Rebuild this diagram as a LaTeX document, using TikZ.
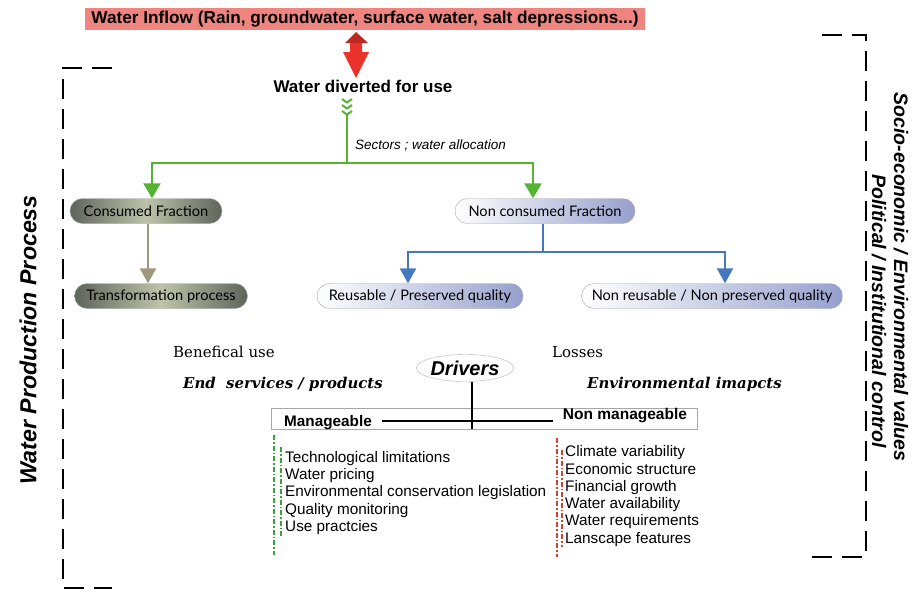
\documentclass[tikz,border=0pt]{standalone}
\usepackage{fontspec}
\setmainfont{Liberation Sans}
\newfontfamily\serifrm{DejaVu Serif}
\newfontfamily\pillfont{Lato}
\usetikzlibrary{arrows.meta,shapes.geometric,calc}
\definecolor{bannerred}{RGB}{240,132,126}
\definecolor{arrowred}{RGB}{232,50,42}
\definecolor{darkred}{RGB}{190,40,35}
\definecolor{leafgreen}{RGB}{84,180,50}
\definecolor{tanline}{RGB}{160,152,125}
\definecolor{blueline}{RGB}{70,120,190}
\definecolor{pillblue}{RGB}{150,160,205}
\definecolor{pilldark}{RGB}{95,100,92}
\definecolor{pillmid}{RGB}{190,195,170}
\definecolor{dgreen}{RGB}{60,160,60}
\definecolor{dred}{RGB}{200,70,50}
\tikzset{
  x=1pt,y=-1pt,
  pill/.style={draw=gray!70,rounded corners=12.5pt,minimum height=25pt,font=\pillfont\fontsize{14.6}{16}\selectfont,inner sep=2pt},
  pilldk/.style={pill,left color=pilldark,right color=pilldark,middle color=pillmid},
  pillbl/.style={pill,left color=white,right color=pillblue},
  garrow/.style={draw=leafgreen,line width=2.5pt,-{Triangle[width=17pt,length=15pt]}},
  barrow/.style={draw=blueline,line width=2.5pt,-{Triangle[width=16pt,length=15pt]}},
  tarrow/.style={draw=tanline,line width=2.5pt,-{Triangle[width=16pt,length=15pt]}},
  bracket/.style={line width=2.5pt,dash pattern=on 20pt off 10pt},
  listtxt/.style={anchor=west,font=\fontsize{15.3}{17.3}\selectfont,align=left,inner sep=0pt},
  dd/.style={line width=1.3pt,dash pattern=on 5pt off 2pt on 1.5pt off 2pt},
  sertxt/.style={anchor=west,font=\serifrm\fontsize{15}{17}\selectfont,inner sep=0pt},
  serbi/.style={anchor=west,font=\serifrm\bfseries\itshape\fontsize{14.9}{17}\selectfont,inner sep=0pt},
  sidetxt/.style={rotate=-90,inner sep=0pt,font=\bfseries\itshape\fontsize{19.5}{21}\selectfont}
}
\begin{document}
\begin{tikzpicture}
\useasboundingbox (0,0) rectangle (912,592);
% banner
\node[fill=bannerred,minimum width=560pt,minimum height=22pt,inner sep=0pt,font=\bfseries\fontsize{17.2}{19}\selectfont] (inflow) at (365,19) {Water Inflow (Rain, groundwater, surface water, salt depressions...)};
% red double arrow
\fill[darkred] (356,32) -- (345,43) -- (368,43) -- cycle;
\fill[arrowred] (350,43) -- (362,43) -- (362,52) -- (369,52) -- (356,78) -- (343,52) -- (350,52) -- cycle;
\node[font=\bfseries\fontsize{17}{19}\selectfont] (div) at (363,86) {Water diverted for use};
% chevrons
\foreach \yy in {99,105,111}{\draw[leafgreen,line width=2pt] (342,\yy) -- (347,\yy+3.5) -- (352,\yy);}
\coordinate (gtop) at (347,113);
\coordinate (gsplit) at (347,163);
\node[anchor=west,inner sep=0pt,font=\itshape\fontsize{13.5}{15}\selectfont] (sect) at (355,145) {Sectors ; water allocation};
% pills
\node[pilldk,minimum width=152pt] (cons) at (146,211) {Consumed Fraction};
\node[pilldk,minimum width=173pt] (trans) at (161,296) {Transformation process};
\node[pillbl,minimum width=180pt] (ncons) at (545,211) {Non consumed Fraction};
\node[pillbl,minimum width=206pt] (reuse) at (420,296) {Reusable / Preserved quality};
\node[pillbl,minimum width=261pt] (nreuse) at (712,296) {Non reusable / Non preserved quality};
% green connectors
\draw[leafgreen,line width=2.5pt] (gtop) -- (gsplit);
\draw[garrow] (gsplit) -| ([xshift=6pt]cons.north);
\draw[garrow] (gsplit) -| ([xshift=-12pt]ncons.north);
% tan
\draw[tarrow] ([xshift=2pt]cons.south) -- ([xshift=2pt]cons.south |- trans.north);
% blue
\coordinate (bsplit) at (543,252);
\draw[blueline,line width=2.5pt] ([xshift=-2pt]ncons.south) -- (bsplit);
\draw[barrow] (bsplit) -| ([xshift=-12pt]reuse.north);
\draw[barrow] (bsplit) -| ([xshift=13pt]nreuse.north);
% drivers area
\node[sertxt] (benef) at (173,352) {Benefical use};
\node[sertxt] (loss) at (552,352) {Losses};
\node[draw=gray!60,ellipse,inner sep=0pt,minimum width=87pt,minimum height=27pt,font=\bfseries\itshape\fontsize{20}{22}\selectfont] (drv) at (465,368) {Drivers};
\node[serbi] (endsv) at (183,384) {End\ \ services / products};
\node[serbi] (envi) at (587,384) {Environmental imapcts};
\node[draw=gray!70,line width=0.8pt,minimum width=426pt,minimum height=21pt,inner sep=0pt] (mbox) at (484,418.5) {};
\node[font=\bfseries\fontsize{15.3}{17}\selectfont,inner sep=0pt] (man) at (328,423) {Manageable};
\node[font=\bfseries\fontsize{15.5}{17}\selectfont,inner sep=0pt] (nman) at (625,416) {Non manageable};
\coordinate (hl) at (382,421);
\draw[line width=1.8pt] (hl) -- (553,421);
\draw[line width=1.8pt] ([xshift=7pt]drv.south) -- ([xshift=7pt]drv.south |- mbox.south);
% lists
\node[listtxt] (lman) at (285,493) {Technological limitations\\Water pricing\\Environmental conservation legislation\\Quality monitoring\\Use practcies};
\node[listtxt] (lnman) at (565,496) {Climate variability\\Economic structure\\Financial growth\\Water availability\\Water requirements\\Lanscape features};
\draw[dd,dgreen] (274,435) -- (274,555);
\draw[dd,dgreen] (281,447) -- (281,538);
\draw[dd,dred] (557,438) -- (557,557);
\draw[dd,dred] (562,450) -- (562,547);
% brackets
\draw[bracket] (112,68) -- (63,68) -- (63,588) -- (112,588);
\draw[bracket] (822,35) -- (866,35) -- (866,557) -- (810,557);
\node[rotate=90,font=\bfseries\itshape\fontsize{23.2}{25}\selectfont] (wpp) at (28,340) {Water Production Process};
\node[sidetxt] (socio) at (901,277) {Socio-economic / Environmental values};
\node[sidetxt] (polit) at (879,311) {Political / Institutional control};
\end{tikzpicture}
\end{document}
